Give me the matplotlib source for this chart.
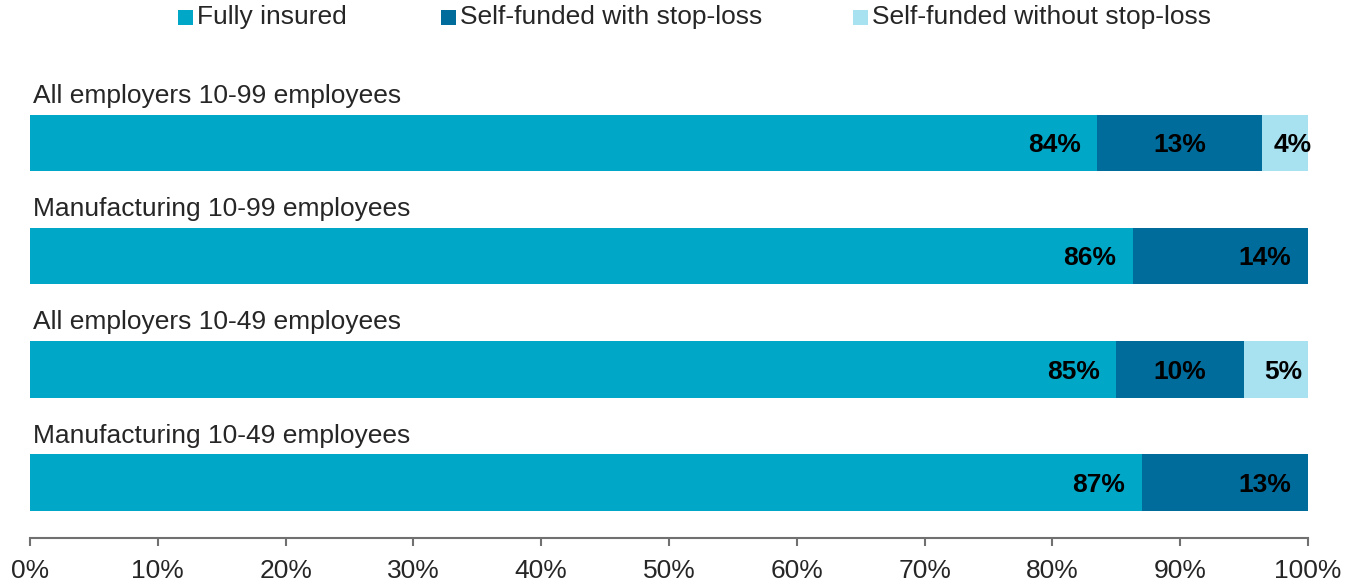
import numpy as np
import matplotlib.pyplot as plt
from matplotlib.patches import Rectangle
from matplotlib.ticker import FixedLocator, FuncFormatter

plt.rcParams['font.family'] = ['Liberation Sans', 'DejaVu Sans']

# Funding arrangement shares (%) per group
groups = [
    "All employers 10-99 employees",
    "Manufacturing 10-99 employees",
    "All employers 10-49 employees",
    "Manufacturing 10-49 employees",
]
fully_insured  = [83.5, 86.3, 85.0, 87.0]
with_stoploss  = [12.9, 13.7, 10.0, 13.0]
without_stop   = [3.6, 0.0, 5.0, 0.0]

series_names = ["Fully insured", "Self-funded with stop-loss", "Self-funded without stop-loss"]
colors = ["#00A7C7", "#006C9C", "#A8E1EF"]

fig = plt.figure(figsize=(13.55, 5.82), dpi=100)
W, H = 1355, 582
ax = fig.add_axes([30/W, (H-538)/H, 1278/W, (538-80)/H])

rows = np.arange(len(groups))
bar_h = 0.5
series = [fully_insured, with_stoploss, without_stop]
left = np.zeros(len(groups))
for vals, col in zip(series, colors):
    vals = np.array(vals)
    ax.barh(rows, vals, left=left, height=bar_h, color=col, edgecolor='none')
    left += vals

# value labels
pad = 1.3
for i in rows:
    n_seg = sum(1 for s in series if s[i] > 0)
    start = 0.0
    for k, s in enumerate(series):
        v = s[i]
        if v <= 0:
            continue
        end = start + v
        txt = f"{v:.0f}%"
        if k == 0 or (k == 1 and n_seg == 2):
            x, ha = end - pad, 'right'
        elif k == 1:
            x, ha = start + v/2, 'center'
        else:
            x, ha = start + v/2 + 0.6, 'center'
        ax.text(x, i + 0.02, txt, ha=ha, va='center', fontsize=19,
                fontweight='bold', color='black', clip_on=False)
        start = end

# group labels above each bar
for i, g in zip(rows, groups):
    ax.text(0.25, i - 0.415, g, ha='left', va='center', fontsize=19, color='#262626')

ax.set_xlim(0, 100)
ax.set_ylim(3.49, -0.555)
ax.xaxis.set_major_locator(FixedLocator(np.arange(0, 101, 10)))
ax.xaxis.set_major_formatter(FuncFormatter(lambda v, p: f"{v:.0f}%"))
ax.tick_params(axis='x', direction='out', length=6, width=1.5, color='#707070',
               labelsize=19, labelcolor='#262626', pad=9)
ax.set_yticks([])
for s in ['top', 'left', 'right']:
    ax.spines[s].set_visible(False)
ax.spines['bottom'].set_color('#707070')
ax.spines['bottom'].set_linewidth(1.5)

# legend drawn by hand along the top
leg_x = [178, 441, 853]
for x0, name, col in zip(leg_x, series_names, colors):
    fig.patches.append(Rectangle((x0/W, (H-25)/H), 15/W, 15/H, transform=fig.transFigure,
                                 facecolor=col, edgecolor='none'))
    fig.text((x0+19)/W, (H-17)/H, name, ha='left', va='center', fontsize=19, color='#262626')

fig.savefig('out.png', dpi=100)
